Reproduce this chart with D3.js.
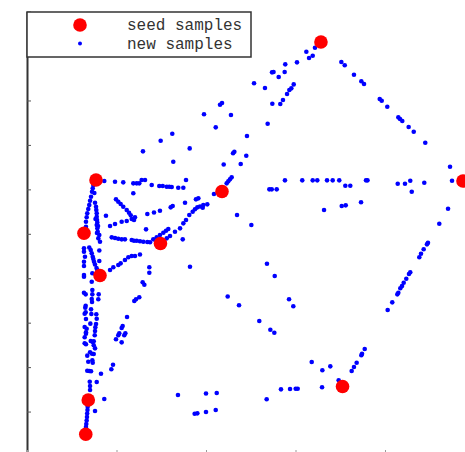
<!DOCTYPE html>
<html>
<head>
<meta charset="utf-8">
<script src="https://cdn.jsdelivr.net/npm/d3@7"></script>
<style>
  html, body { margin: 0; padding: 0; background: #fff; }
  svg { display: block; }
</style>
</head>
<body>
<div id="chart"></div>
<script>
// Seed samples (original points)
const seedX = [295.6, 438.4, 69.4, 196.1, 57.3, 134.2, 73.4, 317.3, 61.6, 59.1];
const seedY = [419.2, 278.4, 279.5, 267.8, 225.5, 215.2, 182.8, 70.4, 56.7, 22.0];

// New samples generated between seeds, as [x, y]
const newUpper = [
  [289.6,413.4],[280.9,409.4],[287.3,405.3],[283.6,403.0],[271.5,398.6],[259.7,396.6],
  [246.4,388.5],[247.9,388.8],[259.1,388.8],[253.1,383.7],[228.3,377.4],[239.3,372.6],
  [268.2,376.3],[265.8,372.3],[263.8,370.6],[261.5,366.5],[257.4,360.5],[254.7,356.4],
  [246.7,356.7],[196.1,357.4],[194.1,355.7],[178.0,346.0],[205.1,345.3],[189.8,332.8],
  [242.0,336.5],[221.2,324.0],[208.5,308.1],[207.2,306.5],[220.5,304.1],[197.8,295.1],
  [214.9,295.7],[146.1,326.3],[134.4,319.2],[163.6,311.5],[116.6,308.5],[147.1,298.0]
];
const newRightEdge = [
  [316.1,398.9],[319.5,395.6],[328.8,386.1],[336.2,379.4],[338.9,376.7],[354.7,361.5],
  [356.7,359.7],[362.3,353.7],[373.4,342.9],[375.1,341.2],[377.4,339.2],[383.8,333.1],
  [388.9,328.4],[400.5,317.2],[425.4,292.9],[427.4,278.7]
];
const newMidRow = [
  [259.4,279.1],[276.8,279.1],[287.3,279.1],[291.9,279.1],[301.7,279.1],[307.4,279.1],
  [314.0,279.1],[320.1,273.7],[325.1,273.7],[340.9,279.1],[342.4,279.1],[372.8,275.7],
  [380.1,275.7],[385.4,278.7],[386.9,267.6],[399.5,276.7],[243.7,270.0],[246.1,270.0],
  [251.1,270.0]
];
const newLowerRight = [
  [298.7,249.1],[316.5,253.1],[320.5,253.8],[335.9,256.9],[423.4,250.4],[211.2,244.0],
  [225.6,233.9],[414.6,235.2],[403.2,216.0],[402.2,214.3],[398.9,209.3],[396.2,204.8],
  [394.5,201.2],[385.4,186.0],[384.1,184.3],[381.4,179.5],[378.8,175.5],[377.1,172.1],
  [375.4,169.8],[373.4,165.3],[372.4,163.7],[367.3,155.6],[362.7,147.8],[339.6,108.3],
  [336.9,103.6],[336.2,102.0],[331.5,94.5],[328.8,90.1],[326.5,86.1],[313.4,76.6],
  [241.3,194.7],[249.1,182.3],[213.2,152.6],[263.5,158.7],[267.8,151.6],[233.6,136.7],
  [244.7,127.9],[248.7,124.8],[286.3,95.2],[305.0,90.8],[297.0,86.8],[296.7,69.6],
  [255.4,67.5],[264.5,67.8],[270.2,68.1],[272.2,68.1],[241.0,57.4],[201.8,161.5]
];
const newLowerMid = [
  [151.8,61.8],[180.0,63.3],[190.8,63.8],[168.6,42.8],[171.3,43.2],[180.0,44.6],[189.8,46.6]
];
const newCentre = [
  [200.8,276.1],[202.4,278.1],[204.1,280.2],[205.8,282.2],[188.0,265.3],[181.3,254.8],
  [176.7,251.4],[169.9,259.9],[172.3,260.9],[158.9,256.5],[159.9,279.5],[144.5,251.8],
  [146.5,253.1],[106.9,266.0],[163.9,191.7],[156.6,219.4],
  [77.7,278.4],[88.5,277.7],[96.8,277.1],[106.9,276.1],[110.3,276.1],[112.9,276.1],
  [115.3,279.5],[118.7,279.5],[125.4,274.4],[133.0,273.4],[136.5,273.4],[140.5,272.7],
  [143.1,272.7],[145.5,272.4],[152.1,271.7],[157.2,271.7],
  [89.5,259.9],[91.8,257.5],[94.2,255.2],[96.8,252.4],[100.3,249.1],[102.6,246.3],
  [104.3,243.7],[107.6,239.0],[119.7,229.5],
  [79.4,243.3],[83.5,232.9],[88.5,234.9],[95.2,237.2],[100.3,237.9],[105.3,240.0],
  [108.6,241.7],[121.0,245.0],[127.7,246.5],[133.7,248.4],
  [85.2,221.4],[88.5,220.7],[91.8,220.0],[95.2,219.4],[98.5,219.4],[105.3,218.7],
  [107.6,218.0],[110.3,218.0],[113.6,217.4],[117.0,217.0],[121.0,216.7],[123.7,216.4],
  [127.0,219.4],[130.4,221.4],[133.7,223.8],[137.1,226.1],[139.8,228.1],[142.1,229.8],
  [140.5,220.4],[143.8,222.8],[148.8,227.1],[153.9,230.5],[157.2,235.6],[159.9,239.0],
  [163.2,244.0],[166.6,247.4],[168.9,249.8],[171.3,251.8],[174.0,252.6],[177.3,254.1],
  [83.5,188.3],[86.8,191.1],[91.8,193.4],[94.2,195.1],[98.5,198.5],[101.9,201.2],
  [105.3,202.5],[108.6,202.5],[113.6,204.0]
];
const newLeftUpper = [
  [66.7,274.4],[66.1,271.0],[65.4,267.6],[64.4,262.5],[63.4,258.5],[62.6,254.1],
  [61.6,250.1],[60.6,245.7],[60.0,241.7],[59.3,237.2],[59.3,232.2],
  [67.7,266.3],[68.4,256.5],[69.4,252.4],[69.7,249.1],[70.1,245.7],[70.1,242.3],
  [70.4,239.0],[68.9,240.0],[70.7,236.4],[70.1,233.9],[71.4,232.9],[70.7,230.5],
  [71.1,227.1],[70.4,225.8],[72.7,223.8],[71.7,220.4],[73.4,217.0],
  [57.3,210.3],[57.3,206.9],[58.3,201.8],[57.3,196.7],[57.3,192.4],[57.3,183.3],
  [57.3,181.5],
  [62.6,211.1],[64.1,208.6],[65.1,205.2],[66.1,201.8],[66.7,199.5],[67.4,196.7],
  [68.4,193.9],[69.9,190.4],[70.7,188.3],[72.7,208.1],[72.7,197.4],[65.7,185.0],
  [65.1,176.5]
];
const newLeftLower = [
  [57.3,165.3],[59.0,163.7],[65.7,168.1],[65.7,163.7],[72.1,163.7],[71.7,158.7],
  [65.1,159.0],[65.4,155.9],[59.0,152.2],[58.6,150.2],[64.4,148.5],[59.0,145.5],
  [58.0,144.1],[64.7,143.8],[69.7,143.5],[70.1,139.0],[59.3,138.7],[63.7,134.0],
  [69.4,133.7],[68.7,130.3],[58.0,130.6],[60.0,128.9],[68.4,126.6],[59.3,125.2],
  [59.3,123.8],[68.1,122.2],[58.0,120.2],[64.1,116.4],[66.1,115.4],[67.1,116.1],
  [58.0,114.1],[59.3,113.1],[67.1,112.1],[68.4,109.0],[63.4,105.0],[65.4,103.6],
  [67.1,103.3],[60.6,101.6],[61.6,95.5],[65.7,96.9],[66.1,94.5],[60.6,86.4],
  [62.6,86.1],[64.4,85.8],[74.4,83.3],[63.1,75.2],[70.1,74.9],[63.4,70.9],
  [63.4,66.8],[77.7,57.7],[68.4,45.6],
  [61.0,49.9],[60.8,46.6],[60.5,43.0],[60.3,39.5],[60.0,35.9],[59.6,32.4],[59.3,29.4],
  [107.9,156.9],[109.6,158.7],[112.9,160.7],[100.6,140.7],[96.2,131.6],[95.2,129.6],
  [92.8,124.2],[91.8,122.2],[98.9,124.2],[97.8,122.2],[89.5,118.2],[95.2,115.1],
  [86.5,92.4],[84.8,87.8],[116.3,175.9],[118.0,173.4],[123.0,191.1],[123.0,185.6]
];
const newSamples = [].concat(newUpper, newRightEdge, newMidRow, newLowerRight,
  newLowerMid, newCentre, newLeftUpper, newLeftLower);

// Axis ticks (unlabelled)
const xTicks = [0, 90, 180, 270, 360, 450];
const yTicks = [0, 45, 90, 135, 180, 225, 270, 315, 360, 405, 450];

// Legend entries
const legendItems = [
  { label: "seed samples", color: "#ff0000", r: 6.8 },
  { label: "new samples", color: "#0000ff", r: 2 }
];

const W = 465, H = 452;
const svg = d3.select("#chart").append("svg")
  .attr("width", W).attr("height", H);

const x = d3.scaleLinear().domain([0, 450]).range([27, 474.5]);
const y = d3.scaleLinear().domain([0, 450]).range([456, 11.6]);

// Left axis: ticks pointing inward
const gy = svg.append("g")
  .attr("transform", "translate(27,0)")
  .call(d3.axisRight(y).tickValues(yTicks).tickSize(4).tickSizeOuter(0).tickFormat(""));
gy.select(".domain").attr("stroke", "#333").attr("stroke-width", 2);
gy.selectAll(".tick line").attr("stroke", "#555").attr("stroke-width", 1);

// Bottom axis: ticks pointing inward
const gx = svg.append("g")
  .attr("transform", "translate(0,454)")
  .call(d3.axisTop(x).tickValues(xTicks).tickSize(4).tickSizeOuter(0).tickFormat(""));
gx.select(".domain").attr("stroke", "#333").attr("stroke-width", 2);
gx.selectAll(".tick line").attr("stroke", "#999").attr("stroke-width", 1);

// New samples
svg.append("g").selectAll("circle")
  .data(newSamples)
  .join("circle")
  .attr("cx", d => x(d[0]))
  .attr("cy", d => y(d[1]))
  .attr("r", 2.3)
  .attr("fill", "#0000ff");

// Seed samples
svg.append("g").selectAll("circle")
  .data(seedX.map((v, i) => [v, seedY[i]]))
  .join("circle")
  .attr("cx", d => x(d[0]))
  .attr("cy", d => y(d[1]))
  .attr("r", 6.8)
  .attr("fill", "#ff0000");

// Legend
const lg = svg.append("g");
lg.append("rect")
  .attr("x", 27).attr("y", 12).attr("width", 224).attr("height", 45)
  .attr("fill", "#fff").attr("stroke", "#333").attr("stroke-width", 1.5);
const rows = lg.selectAll("g.item").data(legendItems).join("g")
  .attr("class", "item")
  .attr("transform", (d, i) => `translate(0,${25 + i * 18.5})`);
rows.append("circle")
  .attr("cx", 80).attr("cy", 0).attr("r", d => d.r).attr("fill", d => d.color);
rows.append("text")
  .attr("x", 127).attr("y", 5)
  .attr("font-family", "'Liberation Mono', 'DejaVu Sans Mono', monospace")
  .attr("font-size", 16)
  .attr("fill", "#333")
  .text(d => d.label);
</script>
</body>
</html>
